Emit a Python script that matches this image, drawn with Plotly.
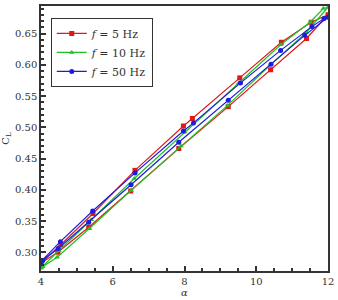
import plotly.graph_objects as go

# f = 5 Hz (red, squares) : closed hysteresis loop
alpha_5 = [4.0, 4.55, 5.45, 6.62, 7.97, 8.22, 9.54, 10.7, 11.53, 12.0,
           11.4, 10.4, 9.22, 7.84, 6.5, 5.33, 4.47, 4.0]
cl_5 = [0.283, 0.312, 0.362, 0.431, 0.502, 0.514, 0.579, 0.636, 0.668, 0.680,
        0.642, 0.592, 0.533, 0.466, 0.398, 0.340, 0.300, 0.283]

# f = 10 Hz (green, triangles)
alpha_10 = [4.0, 4.5, 5.4, 6.6, 8.0, 9.5, 10.68, 11.5, 11.87, 12.0,
            11.4, 10.4, 9.2, 7.9, 6.51, 5.35, 4.45, 4.05, 4.0]
cl_10 = [0.275, 0.303, 0.352, 0.418, 0.492, 0.570, 0.632, 0.668, 0.690, 0.692,
         0.652, 0.600, 0.535, 0.470, 0.399, 0.338, 0.292, 0.277, 0.275]

# f = 50 Hz (blue, circles)
alpha_50 = [4.0, 4.54, 5.44, 6.62, 7.97, 8.25, 9.56, 10.68, 11.55, 11.89, 12.0,
            11.35, 10.41, 9.22, 7.84, 6.51, 5.33, 4.48, 4.05, 4.0]
cl_50 = [0.285, 0.317, 0.366, 0.427, 0.494, 0.507, 0.571, 0.623, 0.661, 0.674, 0.676,
         0.647, 0.601, 0.543, 0.476, 0.408, 0.348, 0.306, 0.287, 0.285]

series = [
    ("<i>f</i> = 5 Hz", alpha_5, cl_5, "#e01818", "square"),
    ("<i>f</i> = 10 Hz", alpha_10, cl_10, "#22c022", "triangle-up"),
    ("<i>f</i> = 50 Hz", alpha_50, cl_50, "#1c1ce0", "circle"),
]

fig = go.Figure()
for name, a, c, col, sym in series:
    fig.add_trace(go.Scatter(
        x=a, y=c, mode="lines+markers", name=name,
        line=dict(color=col, width=1.2),
        marker=dict(color=col, symbol=sym, size=5),
    ))

font_family = "DejaVu Serif"
fig.update_layout(
    width=338, height=300,
    margin=dict(l=41, r=5, t=4, b=27),
    paper_bgcolor="white", plot_bgcolor="white",
    font=dict(family=font_family, size=10, color="#333333"),
    showlegend=True,
    legend=dict(
        x=0.034, y=0.955, xanchor="left", yanchor="top",
        bgcolor="white", bordercolor="#333333", borderwidth=1,
        font=dict(family=font_family, size=11, color="#333333"),
        tracegroupgap=0,
    ),
    xaxis=dict(
        range=[4, 12], tickvals=[4, 6, 8, 10, 12],
        ticklabeloverflow="allow",
        ticks="inside", ticklen=5, tickwidth=1.5, tickcolor="#333333",
        minor=dict(dtick=0.5, ticks="inside", ticklen=3, tickcolor="#333333", showgrid=False),
        showline=True, linecolor="#333333", linewidth=1.5, mirror=True,
        showgrid=False, zeroline=False,
        title=dict(text="<i>α</i>", standoff=2, font=dict(size=10)),
    ),
    yaxis=dict(
        range=[0.27, 0.694], tickvals=[0.30, 0.35, 0.40, 0.45, 0.50, 0.55, 0.60, 0.65],
        tickformat=".2f",
        ticks="inside", ticklen=5, tickwidth=1.5, tickcolor="#333333",
        minor=dict(dtick=0.01, ticks="inside", ticklen=3, tickcolor="#333333", showgrid=False),
        showline=True, linecolor="#333333", linewidth=1.5, mirror=True,
        showgrid=False, zeroline=False,
        title=dict(text="C<sub>L</sub>", standoff=4, font=dict(size=10)),
    ),
)

fig.write_html("out.html")
